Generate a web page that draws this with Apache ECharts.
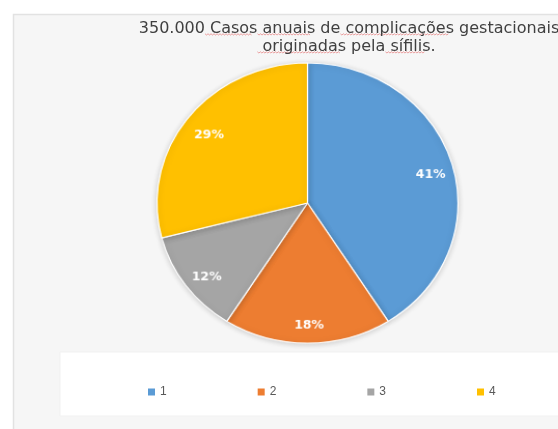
<!DOCTYPE html>
<html>
<head>
<meta charset="utf-8">
<script src="https://cdn.jsdelivr.net/npm/echarts@6/dist/echarts.min.js"></script>
<style>
  html, body { margin: 0; padding: 0; background: #ffffff; }
  #wrap { position: relative; width: 558px; height: 429px; overflow: hidden; }
  #chart, #pie { position: absolute; left: 0; top: 0; width: 558px; height: 429px; }
  /* the pie layer is drawn slightly wider than tall */
  #pie { transform-origin: 307.5px 203px; transform: scale(1.038, 0.966); }
</style>
</head>
<body>
<div id="wrap">
  <div id="chart"></div>
  <div id="pie"></div>
</div>
<script>
// Share of the 350,000 yearly cases, by group
const categories = ['1', '2', '3', '4'];
const shares = [41, 18, 12, 29];
const sliceColors = ['#5b9bd5', '#ed7d31', '#a5a5a5', '#ffc000'];
const titleLines = ['350.000 Casos anuais de complicações gestacionais', 'originadas pela sífilis.'];
// words flagged by the spell checker, per title line
const flaggedWords = [['Casos', 'anuais', 'complicações'], ['originadas', 'sífilis']];

const TITLE_FONT = '16px "DejaVu Sans"';
const TITLE_X = 344;
const underlineY = [34, 52];

// wavy spell-check underlines under the flagged title words
function squiggles() {
  const ctx = document.createElement('canvas').getContext('2d');
  ctx.font = TITLE_FONT;
  const out = [];
  titleLines.forEach((line, li) => {
    const x0 = TITLE_X - ctx.measureText(line).width / 2;
    let from = 0;
    flaggedWords[li].forEach(w => {
      const idx = line.indexOf(w, from);
      from = idx + w.length;
      const xs = x0 + ctx.measureText(line.slice(0, idx)).width;
      const xe = xs + ctx.measureText(w).width;
      const pts = [];
      let k = 0;
      for (let x = xs; x <= xe; x += 1.5, k++) pts.push([x, underlineY[li] + (k % 2 ? 1 : -0.2)]);
      out.push({ type: 'polyline', z: 5, shape: { points: pts },
        style: { stroke: 'rgba(226,90,90,0.55)', lineWidth: 1, fill: null } });
    });
  });
  return out;
}

const base = echarts.init(document.getElementById('chart'), null, { renderer: 'canvas' });
const pie = echarts.init(document.getElementById('pie'), null, { renderer: 'canvas' });

// Frame, title and legend
base.setOption({
  animation: false,
  backgroundColor: '#ffffff',
  color: sliceColors,
  graphic: [
    { type: 'rect', z: -10, shape: { x: 13.5, y: 14.5, width: 560, height: 430 },
      style: { fill: '#f6f6f6', stroke: '#e2e2e2', lineWidth: 1.5 } },
    { type: 'rect', z: -9, shape: { x: 60, y: 352, width: 510, height: 64 },
      style: { fill: '#ffffff', stroke: '#f1f1f1', lineWidth: 1 } }
  ].concat(squiggles()),
  title: {
    text: titleLines.join('\n'),
    left: TITLE_X,
    top: 15,
    textAlign: 'center',
    textStyle: {
      fontFamily: 'DejaVu Sans',
      fontSize: 16,
      fontWeight: 'normal',
      color: '#404040',
      lineHeight: 18
    }
  },
  legend: {
    data: categories,
    left: 143,
    top: 381,
    itemWidth: 7,
    itemHeight: 7,
    itemGap: 91,
    icon: 'rect',
    textStyle: { fontFamily: 'Liberation Sans, Arial, sans-serif', fontSize: 12, color: '#595959' }
  },
  series: [{
    // invisible copy so the legend can list the categories with their colours
    type: 'pie', silent: true, radius: 0, center: [-50, -50],
    label: { show: false }, labelLine: { show: false },
    data: categories.map((c, i) => ({ name: c, value: shares[i], itemStyle: { color: sliceColors[i] } }))
  }]
});

// The pie itself
pie.setOption({
  animation: false,
  backgroundColor: 'transparent',
  series: [
    {
      type: 'pie',
      center: [307.5, 203],
      radius: [0, 145],
      startAngle: 90,
      clockwise: true,
      silent: true,
      label: { show: false },
      labelLine: { show: false },
      itemStyle: { borderColor: '#ffffff', borderWidth: 1.2, shadowBlur: 6, shadowColor: 'rgba(0,0,0,0.18)', shadowOffsetY: 1 },
      data: categories.map((c, i) => ({ name: c, value: shares[i], itemStyle: { color: sliceColors[i] } }))
    },
    {
      // label ring: percentages sit on the outer band of each slice
      type: 'pie',
      center: [309, 208],
      radius: [97, 141],
      startAngle: 90,
      clockwise: true,
      silent: true,
      itemStyle: { color: 'rgba(0,0,0,0)', borderWidth: 0 },
      label: {
        show: true,
        position: 'inside',
        formatter: p => p.value + '%',
        color: '#ffffff',
        fontFamily: 'DejaVu Sans',
        fontWeight: 'bold',
        fontSize: 12
      },
      labelLine: { show: false },
      data: categories.map((c, i) => ({ name: c, value: shares[i] }))
    }
  ]
});
</script>
</body>
</html>
